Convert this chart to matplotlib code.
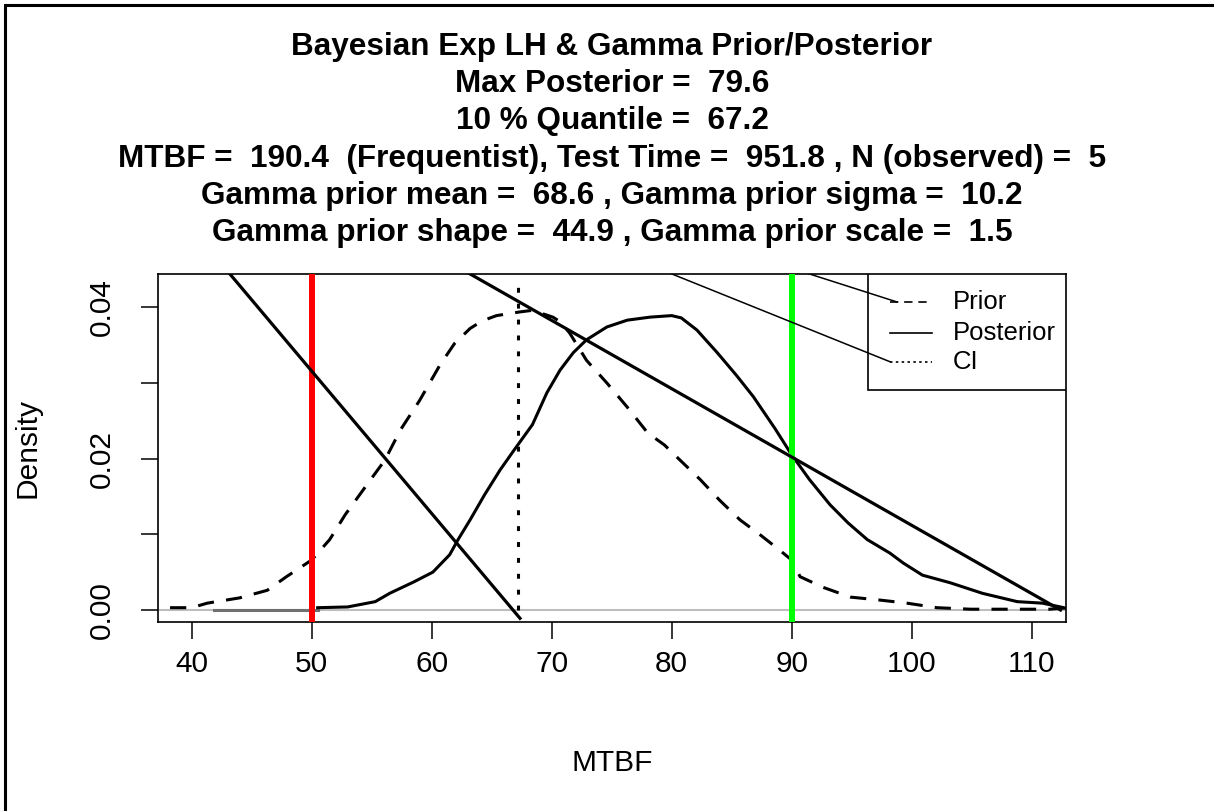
import numpy as np
import matplotlib
matplotlib.use('Agg')
from matplotlib import pyplot as plt
from matplotlib.patches import Rectangle

plt.rcParams['font.family'] = ['Liberation Sans', 'DejaVu Sans']

# values
max_post = 79.6
q10 = 67.2
mtbf_freq = 190.4
test_time = 951.8
n_obs = 5
prior_mean = 68.6
prior_sigma = 10.2
prior_shape = 44.9
prior_scale = 1.5
lo_bound = 50
hi_bound = 90

prior_x = [38.2, 40.0, 41.3, 44.0, 46.3, 47.9, 50.0, 51.5, 52.8, 54.9, 56.1, 57.4,
           59.0, 60.7, 61.9, 63.2, 64.2, 65.4, 67.4, 68.4, 70.1, 70.7, 71.5, 72.9, 74.6,
           76.3, 78.0, 79.4, 80.7, 82.4, 84.0, 85.7, 87.4, 89.0, 90.0, 90.7, 92.6,
           94.9, 97.4, 99.6, 102.1, 104.9, 108.8, 111.5, 112.9]
prior_y = [0.0003, 0.0003, 0.0009, 0.0016, 0.0026, 0.0044, 0.0066, 0.0093, 0.0126,
           0.0172, 0.0198, 0.0238, 0.0277, 0.0324, 0.0352, 0.0372, 0.0382, 0.0389, 0.0394,
           0.0396, 0.0387, 0.0381, 0.0366, 0.0330, 0.0300, 0.0268, 0.0234, 0.0218,
           0.0198, 0.0172, 0.0145, 0.0119, 0.0099, 0.0079, 0.0066, 0.0044, 0.0030,
           0.0017, 0.0013, 0.0009, 0.0003, 0.0001, 0.0001, 0.0001, 0.0003]

post_x = [50.5, 53.0, 55.3, 56.5, 58.5, 60.1, 61.5, 62.2, 63.2, 64.4, 65.7, 66.9,
          68.4, 69.6, 70.7, 71.8, 72.9, 74.6, 76.3, 78.2, 80.0, 80.8, 82.1, 83.8,
          85.4, 86.8, 88.6, 90.0, 91.5, 93.2, 94.7, 96.3, 98.2, 99.3, 100.9, 103.2,
          105.9, 108.8, 110.9, 112.4, 112.9]
post_y = [0.0003, 0.0004, 0.0011, 0.0022, 0.0037, 0.0050, 0.0073, 0.0093, 0.0119,
          0.0152, 0.0185, 0.0212, 0.0245, 0.0287, 0.0317, 0.0340, 0.0357, 0.0374,
          0.0383, 0.0387, 0.0389, 0.0386, 0.0370, 0.0340, 0.0310, 0.0282, 0.0240,
          0.0205, 0.0172, 0.0139, 0.0115, 0.0093, 0.0075, 0.0062, 0.0046, 0.0036,
          0.0022, 0.0011, 0.0009, 0.0004, 0.0002]

# stray straight lines in the original plot
thick1_x = [40.0, 67.36]
thick1_y = [0.0504, -0.0011]
thick2_x = [58.0, 112.4]
thick2_y = [0.0491, 0.0]
thin1_x = [70.0, 98.2]
thin1_y = [0.0508, 0.0328]
thin2_x = [85.0, 98.78]
thin2_y = [0.0477, 0.0407]
grey_x = [41.9, 50.5]

legend_labels = ['Prior', 'Posterior', 'CI']

fig = plt.figure(figsize=(12.14, 8.11), dpi=100)
W, H = 1214, 811
ax = fig.add_axes([157.7 / W, 1 - 622 / H, (1066 - 157.7) / W, (622 - 274) / H])

# outer frame
fig.patches.append(Rectangle((5.0 / W, -0.2), 1.5, 1 - 5.0 / H + 0.2, transform=fig.transFigure,
                             fill=False, lw=2.2, edgecolor='black'))

ax.axhline(0, color='#bebebe', lw=1.5, zorder=1)
ax.plot(grey_x, [0, 0], color='#707070', lw=2.2, zorder=2)
ax.plot(prior_x, prior_y, color='black', lw=2.2, dashes=(5.3, 4), zorder=3)
ax.plot(post_x, post_y, color='black', lw=2.2, zorder=3)
ax.plot([q10, q10], [0, 0.0435], color='black', lw=2.2, dashes=(1.6, 3.6), zorder=3)
ax.axvline(lo_bound, color='#ff0000', lw=4.3, zorder=4)
ax.axvline(hi_bound, color='#00ff00', lw=4.3, zorder=4)
ax.plot(thick1_x, thick1_y, color='black', lw=2.3, zorder=5)
ax.plot(thick2_x, thick2_y, color='black', lw=2.3, zorder=5)

# legend box drawn R-style
ax.add_patch(Rectangle((0.7817, 0.6667), 0.2183, 0.3333, transform=ax.transAxes,
                       facecolor='white', edgecolor='black', lw=1.2, zorder=6))
leg_y = [0.9195, 0.8305, 0.7457]
leg_dash = [(5, 3.5), None, (1.5, 2)]
for lab, yy, d in zip(legend_labels, leg_y, leg_dash):
    kw = {} if d is None else {'dashes': d}
    ax.plot([0.8062, 0.8525], [yy, yy], transform=ax.transAxes, color='black', lw=1.2,
            zorder=7, **kw)
    ax.text(0.8756, yy, lab, transform=ax.transAxes, fontsize=18.5, va='center', zorder=7)

ax.plot(thin1_x, thin1_y, color='black', lw=1.1, zorder=8)
ax.plot(thin2_x, thin2_y, color='black', lw=1.1, zorder=8)

ax.set_xlim(37.17, 112.86)
ax.set_ylim(-0.00159, 0.0444)
ax.set_xticks([40, 50, 60, 70, 80, 90, 100, 110])
ax.set_yticks([0, 0.01, 0.02, 0.03, 0.04])
ax.set_yticklabels(['0.00', '', '0.02', '', '0.04'], rotation=90, va='center')
ax.tick_params(length=12, width=1.1, labelsize=21.5, direction='out')
ax.tick_params(axis='x', pad=8)
ax.tick_params(axis='y', pad=18)
for s in ax.spines.values():
    s.set_linewidth(1.2)

ax.set_xlabel('MTBF', fontsize=21.5)
ax.xaxis.set_label_coords(0.5, (622 - 763) / 348)
ax.xaxis.label.set_va('center')
ax.set_ylabel('Density', fontsize=21.5)
ax.yaxis.set_label_coords((27 - 157.7) / 908.3, 0.5)
ax.yaxis.label.set_va('center')

titles = ['Bayesian Exp LH & Gamma Prior/Posterior',
          'Max Posterior =  %.1f' % max_post,
          '10 % Quantile =  ' + '%.1f' % q10,
          'MTBF =  %.1f  (Frequentist), Test Time =  %.1f , N (observed) =  %d' % (mtbf_freq, test_time, n_obs),
          'Gamma prior mean =  %.1f , Gamma prior sigma =  %.1f' % (prior_mean, prior_sigma),
          'Gamma prior shape =  %.1f , Gamma prior scale =  %.1f' % (prior_shape, prior_scale)]
title_y = [47, 84, 121, 159, 196, 233]
for t, yy in zip(titles, title_y):
    fig.text(612 / W, 1 - yy / H, t, fontsize=22.7, fontweight='bold', ha='center', va='center')

fig.savefig('out.png', dpi=100)
